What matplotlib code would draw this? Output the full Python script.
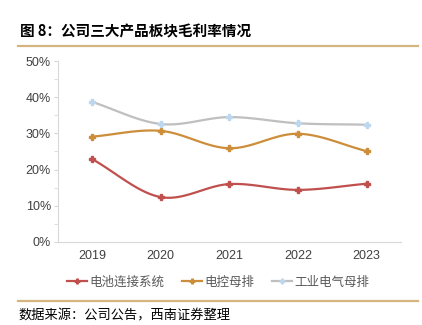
import numpy as np
import matplotlib
matplotlib.use("Agg")
import matplotlib.pyplot as plt
from matplotlib.lines import Line2D

plt.rcParams['font.family'] = ['Noto Sans CJK SC', 'DejaVu Sans']

years = ['2019', '2020', '2021', '2022', '2023']
battery = [22.9, 12.4, 16.0, 14.4, 16.1]
control = [29.1, 30.7, 25.9, 29.9, 25.1]
industrial = [38.7, 32.6, 34.5, 32.8, 32.4]
series_names = ['电池连接系统', '电控母排', '工业电气母排']

line_colors = ['#C0504D', '#CC8E3A', '#BFBFBF']
marker_colors = ['#C0504D', '#CC8E3A', '#BDD7EE']


def catmull(x, y, n=30):
    x = np.asarray(x, float); y = np.asarray(y, float)
    px = np.concatenate([[2 * x[0] - x[1]], x, [2 * x[-1] - x[-2]]])
    py = np.concatenate([[2 * y[0] - y[1]], y, [2 * y[-1] - y[-2]]])
    xs, ys = [], []
    t = np.linspace(0, 1, n)
    for i in range(1, len(px) - 2):
        p0, p1, p2, p3 = [np.array([px[j], py[j]]) for j in range(i - 1, i + 3)]
        c1 = p1 + (p2 - p0) / 6
        c2 = p2 - (p3 - p1) / 6
        pts = ((1 - t) ** 3)[:, None] * p1 + (3 * (1 - t) ** 2 * t)[:, None] * c1 \
            + (3 * (1 - t) * t ** 2)[:, None] * c2 + (t ** 3)[:, None] * p2
        xs.append(pts[:, 0]); ys.append(pts[:, 1])
    return np.concatenate(xs), np.concatenate(ys)


fig = plt.figure(figsize=(4.22, 3.25), dpi=100)
ax = fig.add_axes([0.137, 0.2554, 0.813, 0.5569])

xpos = np.arange(len(years))
handles = []
for vals, lc, mc, name in zip([battery, control, industrial], line_colors, marker_colors, series_names):
    sx, sy = catmull(xpos, vals)
    ax.plot(sx, sy, color=lc, lw=1.6, zorder=2)
    ax.plot(xpos, vals, ls='none', marker='P', ms=4.5, color=mc, mec=mc, zorder=3)
    handles.append(Line2D([0], [0], color=lc, lw=1.6, marker='P', ms=3.5, mfc=mc, mec=mc))

ax.set_xlim(-0.5, 4.5)
ax.set_ylim(0, 50)
ax.set_xticks(xpos)
ax.set_xticklabels(years, fontsize=9, color='#404040', family=['Liberation Sans'])
ax.set_yticks(np.arange(0, 51, 10))
ax.set_yticklabels([f'{v}%' for v in range(0, 51, 10)], fontsize=9, color='#404040', family=['Liberation Sans'])
ax.set_yticks(np.arange(0, 51, 5), minor=True)
ax.tick_params(axis='x', length=0, pad=6)
ax.tick_params(axis='y', which='both', length=3, color='#D9D9D9', pad=2)
for s in ['top', 'right']:
    ax.spines[s].set_visible(False)
ax.spines['left'].set_color('#D9D9D9')
ax.spines['bottom'].set_color('#D9D9D9')

leg = fig.legend(handles, series_names, loc='center', bbox_to_anchor=(0.518, 0.132), ncol=3,
                 frameon=False, fontsize=9, handlelength=1.6, handletextpad=0.2, columnspacing=1.4)
for t in leg.get_texts():
    t.set_color('#595959')

fig.text(0.047, 0.903, '图 8：公司三大产品板块毛利率情况', fontsize=10.5, fontweight='bold',
         va='center', ha='left', color='black')
fig.add_artist(Line2D([0.043, 0.99], [0.857, 0.857], color='#D6B47F', lw=1.6))
fig.add_artist(Line2D([0.043, 0.99], [0.073, 0.073], color='#D6B47F', lw=1.6))
fig.text(0.043, 0.028, '数据来源：公司公告，西南证券整理', fontsize=9.5, va='center', ha='left', color='black')

fig.savefig('out.png', dpi=100)
